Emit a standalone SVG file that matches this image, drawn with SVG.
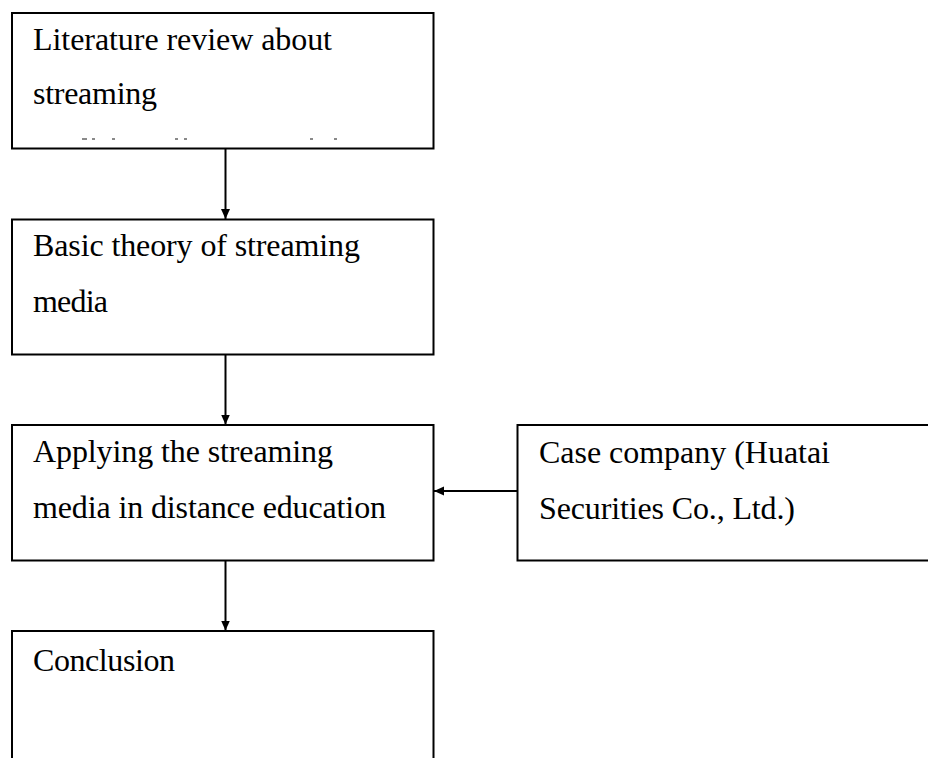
<svg xmlns="http://www.w3.org/2000/svg" width="928" height="758" viewBox="0 0 928 758">
  <style>
    .box { fill: #ffffff; stroke: #000000; stroke-width: 2; }
    .lbl { font-family: "Liberation Serif", "Times New Roman", serif; font-size: 32px; fill: #000000; }
    .conn { fill: none; stroke: #000000; stroke-width: 2; }
    .speck { fill: #8a8a8a; }
  </style>
  <defs>
    <marker id="arrow" markerUnits="userSpaceOnUse" markerWidth="11" markerHeight="10" refX="10" refY="5" orient="auto">
      <path d="M0,0.5 L10,5 L0,9.5 z" fill="#000000"/>
    </marker>
  </defs>
  <rect width="928" height="758" fill="#ffffff"/>

  <g id="node-literature">
    <rect class="box" x="12" y="13" width="421.5" height="135.5"/>
    <text class="lbl" x="33" y="49.5" textLength="299" lengthAdjust="spacing">Literature review about</text>
    <text class="lbl" x="33" y="104" textLength="124" lengthAdjust="spacing">streaming</text>
    <rect class="speck" x="82" y="138" width="5" height="2"/>
    <rect class="speck" x="92" y="138" width="3" height="2"/>
    <rect class="speck" x="112" y="138" width="3" height="2"/>
    <rect class="speck" x="175" y="138" width="3" height="2"/>
    <rect class="speck" x="184" y="138" width="3" height="2"/>
    <rect class="speck" x="310" y="138" width="3" height="2"/>
    <rect class="speck" x="334" y="138" width="3" height="2"/>
  </g>

  <g id="node-basic-theory">
    <rect class="box" x="12" y="219.5" width="421.5" height="135"/>
    <text class="lbl" x="33" y="256" textLength="327" lengthAdjust="spacing">Basic theory of streaming</text>
    <text class="lbl" x="33" y="311.5" textLength="75" lengthAdjust="spacing">media</text>
  </g>

  <g id="node-applying">
    <rect class="box" x="12" y="425" width="421.5" height="135.5"/>
    <text class="lbl" x="33" y="462" textLength="300" lengthAdjust="spacing">Applying the streaming</text>
    <text class="lbl" x="33" y="518" textLength="353" lengthAdjust="spacing">media in distance education</text>
  </g>

  <g id="node-case-company">
    <rect class="box" x="517.5" y="425" width="430" height="135.5"/>
    <text class="lbl" x="539" y="463" textLength="291" lengthAdjust="spacing">Case company (Huatai</text>
    <text class="lbl" x="539" y="519" textLength="256" lengthAdjust="spacing">Securities Co., Ltd.)</text>
  </g>

  <g id="node-conclusion">
    <rect class="box" x="12" y="631" width="421.5" height="200"/>
    <text class="lbl" x="33" y="671" textLength="142" lengthAdjust="spacing">Conclusion</text>
  </g>

  <g id="connectors">
    <path class="conn" d="M225.5,148.5 L225.5,219" marker-end="url(#arrow)"/>
    <path class="conn" d="M225.5,355 L225.5,424.5" marker-end="url(#arrow)"/>
    <path class="conn" d="M225.5,561 L225.5,630.5" marker-end="url(#arrow)"/>
    <path class="conn" d="M517,491 L434,491" marker-end="url(#arrow)"/>
  </g>
</svg>
